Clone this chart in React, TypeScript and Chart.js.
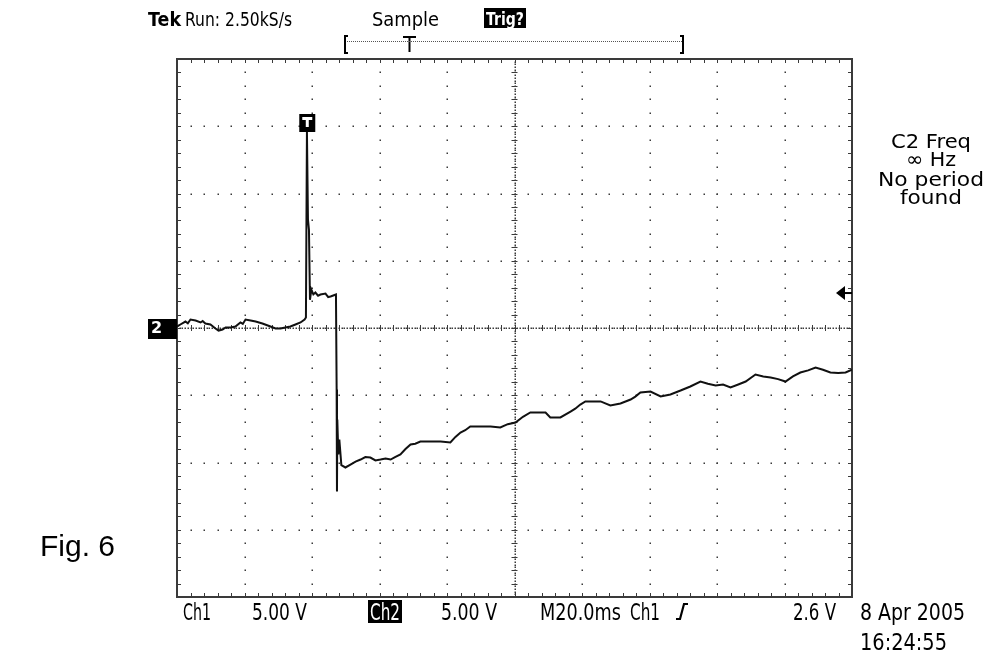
import { useEffect, useRef } from "react";
import { Chart, registerables } from "chart.js";

Chart.register(...registerables);

// Ch2 trace: time in ms (20 ms/div, 10 div), voltage in V (5 V/div, 8 div)
const timeMs = [
  0.0, 1.0, 2.5, 3.2, 4.0, 5.5, 7.0, 7.6, 8.4, 9.9, 11.4, 12.3, 13.5, 14.4, 15.9, 17.3, 18.8, 19.5, 20.3, 21.8,
  23.3, 25.3, 27.7, 29.2, 30.7, 32.1, 33.6, 35.1, 36.6, 37.8, 38.2, 38.5, 38.8, 39.1, 39.4, 39.8, 40.4, 41.0,
  41.8, 42.5, 44.0, 44.8, 45.5, 47.1, 47.3, 47.4, 47.5, 47.8, 48.1, 48.7, 49.9, 51.4, 52.9, 54.4, 55.8, 57.3,
  58.8, 60.3, 61.8, 63.3, 64.6, 66.2, 67.7, 69.2, 70.6, 72.1, 75.0, 78.1, 81.0, 82.5, 84.0, 85.4, 86.9, 89.8,
  92.9, 95.8, 98.0, 100.3, 102.5, 104.7, 107.0, 109.2, 110.6, 113.6, 116.6, 118.0, 119.5, 121.0, 123.2, 125.5,
  128.4, 131.4, 134.4, 135.8, 137.3, 140.3, 143.3, 146.2, 149.2, 152.1, 155.1, 157.3, 159.6, 161.8, 164.0,
  166.3, 168.5, 171.4, 173.7, 175.9, 178.1, 180.3, 182.5, 184.7, 187.0, 189.2, 191.4, 193.6, 195.9, 198.1, 200.0,
];
const ch2Volts = [
  0.11, 0.26, 0.48, 0.35, 0.63, 0.56, 0.41, 0.52, 0.33, 0.26, -0.04, -0.19, -0.11, 0.04, 0.04, 0.11, 0.41, 0.3, 0.63, 0.56,
  0.48, 0.33, 0.11, -0.04, -0.04, 0.04, 0.11, 0.26, 0.41, 0.63, 0.78, 14.6, 8.07, 7.3, 2.1, 2.86, 2.5, 2.64,
  2.4, 2.49, 2.56, 2.3, 2.34, 2.49, -4.57, -12.16, -6.8, -9.4, -8.3, -10.2, -10.37, -10.15, -9.93, -9.78, -9.6, -9.63,
  -9.85, -9.78, -9.7, -9.78, -9.6, -9.4, -9.0, -8.66, -8.6, -8.44, -8.44, -8.44, -8.51, -8.1, -7.77, -7.6, -7.32, -7.32,
  -7.32, -7.4, -7.15, -7.03, -6.6, -6.28, -6.28, -6.28, -6.65, -6.65, -6.21, -6.0, -5.69, -5.46, -5.46, -5.46,
  -5.76, -5.61, -5.32, -5.1, -4.8, -4.72, -5.09, -4.94, -4.65, -4.35, -3.98, -4.15, -4.28, -4.2, -4.42,
  -4.2, -3.98, -3.46, -3.6, -3.68, -3.8, -3.98, -3.6, -3.31, -3.15, -2.94, -3.1, -3.31, -3.35, -3.31, -3.09,
];

const timeRange = [0, 200];
const voltRange = [-20, 20];
const triggerTimeMs = 38.6;
const triggerLevelV = 2.6;

const headerTek = "Tek";
const headerRun = "Run: 2.50kS/s";
const headerMode = "Sample";
const headerTrig = "Trig?";
const sideLines = ["C2 Freq", "\u221E Hz", "No period", "found"];
const footerCh1 = ["Ch1", "5.00 V"];
const footerCh2 = ["Ch2", "5.00 V"];
const footerTime = ["M20.0ms", "Ch1", "2.6 V"];
const dateLines = ["8 Apr 2005", "16:24:55"];
const figLabel = "Fig. 6";

const SANS = '"DejaVu Sans", sans-serif';
const COND = '"DejaVu Sans Condensed", "Liberation Sans Narrow", sans-serif';

function fitText(ctx: CanvasRenderingContext2D, text: string, left: number, baseline: number, width: number, font: string, color = "#000") {
  ctx.save();
  ctx.font = font;
  ctx.textAlign = "left";
  ctx.textBaseline = "alphabetic";
  const w = ctx.measureText(text).width;
  ctx.translate(left, baseline);
  ctx.scale(width / w, 1);
  ctx.fillStyle = color;
  ctx.fillText(text, 0, 0);
  ctx.restore();
}

const scopePlugin = {
  id: "scope",
  beforeDatasetsDraw(chart: any) {
    const { ctx, chartArea: a, scales } = chart;
    const xs = scales.x;
    const ys = scales.y;
    ctx.save();
    ctx.fillStyle = "#3a3a3a";
    const dot = (x: number, y: number) => ctx.fillRect(Math.round(x) - 0.5, Math.round(y) - 0.5, 1.5, 1.5);
    // major grid dots
    for (let t = 20; t < 200; t += 20) {
      if (t === 100) continue;
      for (let v = -19; v < 20; v += 1) dot(xs.getPixelForValue(t), ys.getPixelForValue(v));
    }
    for (let v = -15; v <= 15; v += 5) {
      if (v === 0) continue;
      for (let t = 4; t < 200; t += 4) dot(xs.getPixelForValue(t), ys.getPixelForValue(v));
    }
    // center cross
    const y0 = ys.getPixelForValue(0);
    const x0 = xs.getPixelForValue(100);
    for (let t = 0; t <= 200; t += 0.8) dot(xs.getPixelForValue(t), y0);
    for (let v = -20; v <= 20; v += 0.2) dot(x0, ys.getPixelForValue(v));
    ctx.strokeStyle = "#3a3a3a";
    ctx.lineWidth = 1;
    ctx.beginPath();
    for (let t = 4; t < 200; t += 4) {
      const x = Math.round(xs.getPixelForValue(t)) + 0.5;
      ctx.moveTo(x, y0 - 3);
      ctx.lineTo(x, y0 + 3);
      ctx.moveTo(x, a.top);
      ctx.lineTo(x, a.top + 4);
      ctx.moveTo(x, a.bottom);
      ctx.lineTo(x, a.bottom - 4);
    }
    for (let v = -19; v < 20; v += 1) {
      const y = Math.round(ys.getPixelForValue(v)) + 0.5;
      ctx.moveTo(x0 - 3, y);
      ctx.lineTo(x0 + 3, y);
      ctx.moveTo(a.left, y);
      ctx.lineTo(a.left + 4, y);
      ctx.moveTo(a.right, y);
      ctx.lineTo(a.right - 4, y);
    }
    ctx.stroke();
    // frame
    ctx.lineWidth = 2;
    ctx.strokeStyle = "#3a3a3a";
    ctx.strokeRect(a.left, a.top, a.right - a.left, a.bottom - a.top);
    ctx.restore();
  },
  afterDraw(chart: any) {
    const { ctx, chartArea: a, scales } = chart;
    const xs = scales.x;
    const ys = scales.y;
    ctx.save();
    // header
    fitText(ctx, headerTek, 148, 26, 33, `bold 19px ${SANS}`);
    fitText(ctx, headerRun, 185, 26, 107, `19px ${SANS}`);
    fitText(ctx, headerMode, 372, 26, 67, `19px ${SANS}`);
    ctx.fillStyle = "#000";
    ctx.fillRect(484, 8, 42, 20);
    fitText(ctx, headerTrig, 486, 25, 38, `bold 18px ${SANS}`, "#fff");
    // record bracket
    ctx.strokeStyle = "#000";
    ctx.lineWidth = 2;
    ctx.beginPath();
    ctx.moveTo(348, 36); ctx.lineTo(345, 36); ctx.lineTo(345, 53); ctx.lineTo(348, 53);
    ctx.moveTo(680, 36); ctx.lineTo(683, 36); ctx.lineTo(683, 53); ctx.lineTo(680, 53);
    ctx.moveTo(403, 37); ctx.lineTo(416, 37);
    ctx.moveTo(409.5, 37); ctx.lineTo(409.5, 52);
    ctx.stroke();
    ctx.fillStyle = "#555";
    for (let x = 347; x < 682; x += 2) ctx.fillRect(x, 41, 1, 1);
    // trigger position marker
    const xt = xs.getPixelForValue(triggerTimeMs);
    ctx.fillStyle = "#000";
    ctx.fillRect(xt - 8, 114, 16, 18);
    ctx.fillStyle = "#fff";
    ctx.fillRect(xt - 5, 117, 10, 3);
    ctx.fillRect(xt - 1.5, 117, 3, 10);
    // ground marker "2"
    const yg = ys.getPixelForValue(0);
    ctx.fillStyle = "#000";
    ctx.fillRect(148, yg - 9, a.left - 148, 20);
    ctx.font = `bold 16px ${SANS}`;
    ctx.fillStyle = "#fff";
    ctx.textBaseline = "middle";
    ctx.fillText("2", 151, yg + 1);
    // trigger level arrow
    const yl = ys.getPixelForValue(triggerLevelV);
    ctx.fillStyle = "#000";
    ctx.beginPath();
    ctx.moveTo(836, yl);
    ctx.lineTo(845, yl - 7);
    ctx.lineTo(845, yl + 7);
    ctx.closePath();
    ctx.fill();
    ctx.fillRect(845, yl - 1, a.right - 845, 2);
    // side measurement text
    const sideW = [80, 50, 106, 62];
    const sideB = [148, 166, 186, 204];
    sideLines.forEach((s, i) => fitText(ctx, s, 931 - sideW[i] / 2, sideB[i], sideW[i], `20px ${SANS}`));
    // footer
    const fb = 620;
    const F = `23px ${COND}`;
    fitText(ctx, footerCh1[0], 183, fb, 28, F);
    fitText(ctx, footerCh1[1], 252, fb, 55, F);
    ctx.fillStyle = "#000";
    ctx.fillRect(368, 600, 34, 23);
    fitText(ctx, footerCh2[0], 370, fb, 30, F, "#fff");
    fitText(ctx, footerCh2[1], 441, fb, 56, F);
    fitText(ctx, footerTime[0], 540, fb, 81, F);
    fitText(ctx, footerTime[1], 630, fb, 30, F);
    ctx.strokeStyle = "#000";
    ctx.lineWidth = 2.2;
    ctx.beginPath();
    ctx.moveTo(676, 619); ctx.lineTo(680, 619); ctx.lineTo(684, 604); ctx.lineTo(688, 604);
    ctx.stroke();
    fitText(ctx, footerTime[2], 793, fb, 43, F);
    fitText(ctx, dateLines[0], 860, fb, 105, F);
    fitText(ctx, dateLines[1], 860, 650, 87, F);
    // figure label
    ctx.font = `30px "Liberation Sans", Arial, sans-serif`;
    ctx.fillStyle = "#000";
    ctx.textBaseline = "alphabetic";
    ctx.textAlign = "left";
    ctx.fillText(figLabel, 40, 556);
    ctx.restore();
  },
};

export default function App() {
  const ref = useRef<HTMLCanvasElement>(null);
  useEffect(() => {
    if (!ref.current) return;
    const chart = new Chart(ref.current, {
      type: "line",
      data: {
        datasets: [
          {
            data: timeMs.map((t, i) => ({ x: t, y: ch2Volts[i] })),
            borderColor: "#111",
            borderWidth: 2,
            pointRadius: 0,
            tension: 0,
            fill: false,
          },
        ],
      },
      options: {
        responsive: false,
        animation: false,
        layout: { padding: { left: 177, right: 139, top: 59, bottom: 55 } },
        scales: {
          x: { type: "linear", min: timeRange[0], max: timeRange[1], display: false },
          y: { type: "linear", min: voltRange[0], max: voltRange[1], display: false },
        },
        plugins: { legend: { display: false }, tooltip: { enabled: false } },
      },
      plugins: [scopePlugin],
    });
    return () => chart.destroy();
  }, []);
  return (
    <div style={{ position: "absolute", left: 0, top: 0, width: 991, height: 652, background: "#fff" }}>
      <canvas ref={ref} width={991} height={652} />
    </div>
  );
}
